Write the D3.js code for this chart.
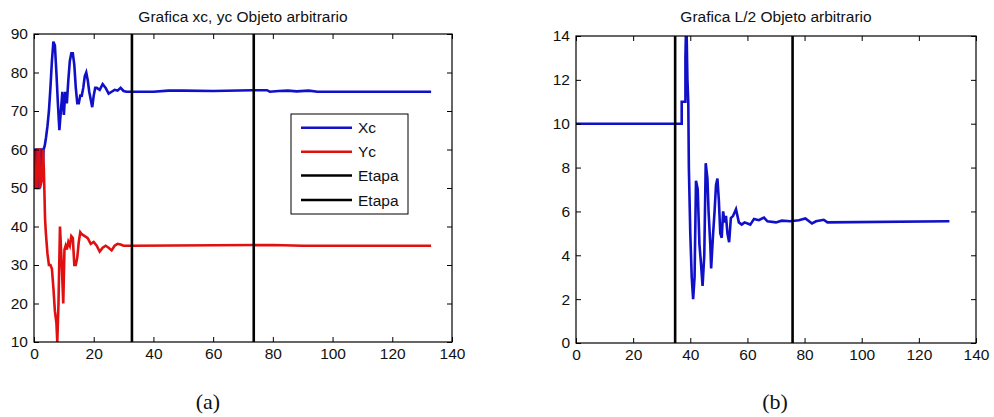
<!DOCTYPE html>
<html>
<head>
<meta charset="utf-8">
<script src="https://cdn.jsdelivr.net/npm/d3@7"></script>
<style>
  html, body { margin: 0; padding: 0; background: #fff; }
  svg { display: block; }
  text { font-family: "Liberation Sans", Arial, sans-serif; fill: #111; }
</style>
</head>
<body>
<svg id="chart" width="994" height="417"></svg>
<script>
// ---------- Data ----------
const xTicks = [0, 20, 40, 60, 80, 100, 120, 140];
const yTicksA = [10, 20, 30, 40, 50, 60, 70, 80, 90];
const yTicksB = [0, 2, 4, 6, 8, 10, 12, 14];

// Panel (a): Xc series
const xcX = [0, 0.5, 1, 1.2, 1.8, 2, 2.6, 2.8, 3.2, 3.6, 4, 4.5, 5, 5.5, 6, 6.5, 7, 7.5, 8, 8.5, 9, 9.5, 10, 10.5, 11, 11.5, 12, 12.5, 13, 13.5, 14, 14.5, 15, 15.5, 16, 16.5, 17, 17.5, 18, 18.5, 19, 19.5, 20, 20.5, 21, 22, 23, 24, 25, 26, 27, 28, 29, 30, 31, 40, 45, 50, 60, 73, 78, 79, 82, 85, 88, 92, 95, 133];
const xcY = [50, 60, 60, 50, 50, 60, 60, 53, 60, 61, 63, 66, 70, 76, 83, 88, 87, 80, 72, 65, 70, 75, 69, 75, 72, 78, 83, 85, 85, 82, 76, 72, 72, 74, 74, 76, 79, 80, 78, 75, 73, 71, 74, 76, 76, 75.5, 77, 76, 74.5, 75, 75.5, 75.3, 76, 75.2, 75, 75, 75.3, 75.3, 75.2, 75.4, 75.4, 75, 75.2, 75.3, 75.1, 75.3, 75, 75];

// Panel (a): Yc series
const ycX = [0, 0.5, 1, 1.2, 1.8, 2, 2.6, 3, 3.3, 3.7, 4, 4.5, 5, 5.5, 6, 6.5, 7, 7.5, 7.8, 8.2, 8.7, 9, 9.3, 9.8, 10.2, 10.6, 11, 11.5, 12, 12.5, 13, 13.5, 14, 14.5, 15, 15.5, 16, 17, 18, 19, 20, 21, 22, 23, 24, 25, 26, 27, 28, 29, 30, 33, 80, 90, 133];
const ycY = [60, 50, 50, 60, 60, 50, 52, 60, 55, 42, 38, 33, 30, 30, 29, 24, 18, 15, 10, 20, 40, 35, 30, 20, 34, 35, 34, 36, 35, 37.5, 37, 30, 30, 32, 36, 38.5, 38, 37.5, 37, 35.5, 36, 35, 33.5, 34.5, 35, 34.5, 33.8, 35, 35.5, 35.3, 35, 35, 35.2, 35, 35];

// Panel (a): stage markers
const etapaA = [32.8, 73.6];

// Panel (b): L/2 series
const lX = [0, 37, 37, 38.3, 38.3, 38.6, 39, 39.3, 39.5, 40, 40.5, 41, 41.5, 42, 42.6, 43.2, 43.7, 44.3, 44.9, 45.4, 46, 46.4, 47, 47.3, 48, 48.5, 49, 49.5, 50, 50.5, 51, 51.5, 52, 52.5, 53, 53.6, 54.2, 55, 56, 57, 58, 59, 61, 62.3, 64, 65.8, 67, 70, 72, 75, 78, 80.3, 82.6, 84, 86.7, 88, 130.7];
const lY = [10, 10, 11, 11, 13, 15, 12, 11, 8, 5, 3, 2, 3, 7.4, 7, 4.5, 3.7, 2.6, 4, 8.2, 7.5, 6, 4.5, 3.4, 5, 6, 7.2, 7.5, 6.5, 5, 4.8, 6, 5.5, 5.8, 5, 4.6, 5.7, 5.8, 6.1, 5.5, 5.4, 5.5, 5.4, 5.66, 5.6, 5.72, 5.55, 5.5, 5.58, 5.55, 5.6, 5.68, 5.45, 5.55, 5.62, 5.5, 5.55];

// Panel (b): stage markers
const etapaB = [34.7, 75.8];

const legendLabels = ["Xc", "Yc", "Etapa", "Etapa"];

// ---------- Drawing ----------
const svg = d3.select("#chart");
const BLUE = "#1010c8", RED = "#e01010";

function panel(cfg) {
  const x = d3.scaleLinear().domain([0, 140]).range([cfg.left, cfg.right]);
  const y = d3.scaleLinear().domain(cfg.yDomain).range([cfg.bottom, cfg.top]);
  const g = svg.append("g");
  const clipId = "clip" + cfg.id;
  svg.append("defs").append("clipPath").attr("id", clipId)
    .append("rect").attr("x", cfg.left).attr("y", cfg.top)
    .attr("width", cfg.right - cfg.left).attr("height", cfg.bottom - cfg.top);

  const plot = g.append("g").attr("clip-path", `url(#${clipId})`);
  const line = d3.line().x(d => x(d[0])).y(d => y(d[1]));
  cfg.series.forEach(s => {
    plot.append("path")
      .datum(s.xs.map((v, i) => [v, s.ys[i]]))
      .attr("d", line)
      .attr("fill", "none")
      .attr("stroke", s.color)
      .attr("stroke-width", 2.6)
      .attr("stroke-linejoin", "miter");
  });
  cfg.etapas.forEach(v => {
    plot.append("line")
      .attr("x1", x(v)).attr("x2", x(v))
      .attr("y1", y(cfg.yDomain[0])).attr("y2", y(cfg.yDomain[1]))
      .attr("stroke", "#000").attr("stroke-width", 2.6);
  });

  // Axes (inward ticks, all four sides)
  const tickLen = 5;
  const axB = g.append("g").attr("transform", `translate(0,${cfg.bottom})`)
    .call(d3.axisBottom(x).tickValues(xTicks).tickSizeInner(-tickLen).tickSizeOuter(0).tickPadding(cfg.xPad));
  const axT = g.append("g").attr("transform", `translate(0,${cfg.top})`)
    .call(d3.axisTop(x).tickValues(xTicks).tickSizeInner(-tickLen).tickSizeOuter(0).tickFormat(""));
  const axL = g.append("g").attr("transform", `translate(${cfg.left},0)`)
    .call(d3.axisLeft(y).tickValues(cfg.yTicks).tickSizeInner(-tickLen).tickSizeOuter(0).tickPadding(cfg.yPad));
  const axR = g.append("g").attr("transform", `translate(${cfg.right},0)`)
    .call(d3.axisRight(y).tickValues(cfg.yTicks).tickSizeInner(-tickLen).tickSizeOuter(0).tickFormat(""));
  [axB, axT, axL, axR].forEach(a => {
    a.select(".domain").remove();
    a.selectAll("line").attr("stroke", "#000").attr("stroke-width", 1);
    a.selectAll("text").style("font-family", "'Liberation Sans', Arial, sans-serif")
      .style("font-size", "15.5px").attr("fill", "#111");
  });
  g.append("rect")
    .attr("x", cfg.left).attr("y", cfg.top)
    .attr("width", cfg.right - cfg.left).attr("height", cfg.bottom - cfg.top)
    .attr("fill", "none").attr("stroke", "#000").attr("stroke-width", 1.2);

  // Title
  g.append("text")
    .attr("x", (cfg.left + cfg.right) / 2).attr("y", 22)
    .attr("text-anchor", "middle")
    .style("font-size", "15.5px")
    .text(cfg.title);

  // Sub-caption
  svg.append("text")
    .attr("x", cfg.capX).attr("y", 409)
    .attr("text-anchor", "middle")
    .style("font-family", "'Liberation Serif', 'Times New Roman', serif")
    .style("font-size", "22px")
    .attr("fill", "#000")
    .text(cfg.caption);
  return { x, y, g };
}

const A = panel({
  id: "a", left: 34, right: 452, top: 34, bottom: 342,
  yDomain: [10, 90], yTicks: yTicksA, xPad: 6, yPad: 6,
  title: "Grafica xc, yc Objeto arbitrario",
  caption: "(a)", capX: 208,
  series: [{ xs: xcX, ys: xcY, color: BLUE }, { xs: ycX, ys: ycY, color: RED }],
  etapas: etapaA
});

panel({
  id: "b", left: 576, right: 976, top: 36, bottom: 343,
  yDomain: [0, 14], yTicks: yTicksB, xPad: 6, yPad: 6,
  title: "Grafica L/2 Objeto arbitrario",
  caption: "(b)", capX: 775,
  series: [{ xs: lX, ys: lY, color: BLUE }],
  etapas: etapaB
});

// Legend in panel (a)
const leg = svg.append("g");
leg.append("rect").attr("x", 291).attr("y", 114).attr("width", 117).attr("height", 100)
  .attr("fill", "#fff").attr("stroke", "#000").attr("stroke-width", 1);
const legColors = [BLUE, RED, "#000", "#000"];
const legRows = [127.7, 151.7, 175.5, 200];
legendLabels.forEach((lab, i) => {
  leg.append("line").attr("x1", 301).attr("x2", 352)
    .attr("y1", legRows[i]).attr("y2", legRows[i])
    .attr("stroke", legColors[i]).attr("stroke-width", 2.6);
  leg.append("text").attr("x", 358).attr("y", legRows[i]).attr("dy", "0.36em")
    .style("font-size", "15.5px").text(lab);
});
</script>
</body>
</html>
